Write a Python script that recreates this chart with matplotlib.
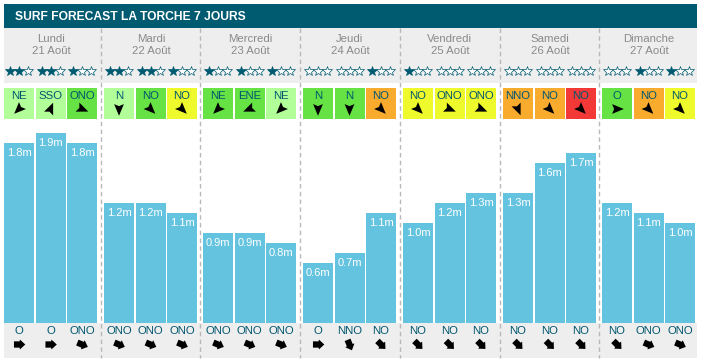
import matplotlib
matplotlib.use("Agg")
import matplotlib.pyplot as plt
from matplotlib.patches import Rectangle, Polygon
import numpy as np

plt.rcParams['font.family'] = ['Liberation Sans', 'DejaVu Sans']

title = "SURF FORECAST LA TORCHE 7 JOURS"
days = ["Lundi", "Mardi", "Mercredi", "Jeudi", "Vendredi", "Samedi", "Dimanche"]
dates = ["21 Août", "22 Août", "23 Août", "24 Août", "25 Août", "26 Août", "27 Août"]

heights = [1.8, 1.9, 1.8, 1.2, 1.2, 1.1, 0.9, 0.9, 0.8, 0.6, 0.7, 1.1,
           1.0, 1.2, 1.3, 1.3, 1.6, 1.7, 1.2, 1.1, 1.0]
stars = [2, 2, 1, 2, 2, 1, 1, 1, 1, 0, 0, 1, 1, 0, 0, 0, 0, 0, 0, 1, 1]
wind_dirs = ["NE", "SSO", "ONO", "N", "NO", "NO", "NE", "ENE", "NE", "N", "N", "NO",
             "NO", "ONO", "ONO", "NNO", "NO", "NO", "O", "NO", "NO"]
# l=light green g=green y=yellow o=orange r=red
wind_levels = ["l", "l", "g", "l", "g", "y", "g", "g", "l", "g", "g", "o",
               "y", "y", "y", "o", "o", "r", "g", "o", "y"]
swell_dirs = ["O", "O", "ONO", "ONO", "ONO", "ONO", "ONO", "ONO", "ONO", "O", "NNO", "NO",
              "NO", "NO", "NO", "NO", "NO", "NO", "NO", "ONO", "ONO"]

level_colors = {"l": "#b2ff99", "g": "#66e244", "y": "#eefa2c", "o": "#f9ab2d", "r": "#f33838"}
# bearing the wind or swell comes from
bearings = {"N": 0, "NNO": 337.5, "NO": 315, "ONO": 292.5, "O": 270, "SSO": 202.5,
            "ENE": 67.5, "NE": 45}

teal = "#005a70"
bar_color = "#64c3df"
grey_bg = "#eeeeee"
text_blue = "#00566e"

day_lefts = [4, 104, 203, 303, 403, 503, 602]
slot_offsets = [0, 31.5, 63]
bar_width = 30
separators = [100.5, 199.5, 300, 399.5, 499.5, 598.5]

W, H = 705, 364
fig = plt.figure(figsize=(W / 100, H / 100), dpi=100, facecolor="white")

# pixel space for everything around the bars
bg = fig.add_axes([0, 0, 1, 1])
bg.set_xlim(0, W)
bg.set_ylim(H, 0)
bg.axis("off")

# bars share the same pixels: bottom at y=323, 100 px per metre
ax = fig.add_axes([0, (H - 323) / H, 1, 323 / H], zorder=2)
ax.set_xlim(0, W)
ax.set_ylim(0, 3.23)
ax.axis("off")
ax.patch.set_alpha(0)

bg.add_patch(Rectangle((4, 4), 693, 24, color=teal, lw=0))
bg.add_patch(Rectangle((4, 28), 693, 55, color=grey_bg, lw=0))
bg.add_patch(Rectangle((4, 323), 693, 35, color=grey_bg, lw=0))
bg.text(15, 16.5, title, color="white", fontsize=8.7, fontweight="bold", va="center", ha="left")

for sx in separators:
    bg.plot([sx, sx], [28, 358], color="#b8b8b8", lw=1, ls=(0, (3.2, 2.4)), zorder=1)

dart = np.array([[0, 1], [0.72, -0.72], [0, -0.42], [-0.72, -0.72]])
block = np.array([[0, 1], [0.78, 0.15], [0.5, 0.1], [0.5, -0.8], [-0.5, -0.8], [-0.5, 0.1], [-0.78, 0.15]])


def arrow(shape, cx, cy, bearing, size):
    # points the way the water/wind travels, so bearing + 180, y axis is flipped
    a = np.radians(bearing + 180)
    ux, uy = np.sin(a), -np.cos(a)
    vx, vy = -uy, ux
    pts = [(cx + size * (p[1] * ux + p[0] * vx), cy + size * (p[1] * uy + p[0] * vy)) for p in shape]
    bg.add_patch(Polygon(pts, closed=True, color="black", lw=0, zorder=4))


for d, (day, date) in enumerate(zip(days, dates)):
    mid = day_lefts[d] + 47
    bg.text(mid, 39.5, day, color="#8a8a8a", fontsize=8.2, ha="center", va="center")
    bg.text(mid, 51, date, color="#8a8a8a", fontsize=8.2, ha="center", va="center")
    for s, off in enumerate(slot_offsets):
        i = d * 3 + s
        x0 = day_lefts[d] + off
        xc = x0 + bar_width / 2
        ax.bar(xc, heights[i], width=bar_width, color=bar_color, linewidth=0)
        ax.text(xc, heights[i] - 0.095, f"{heights[i]:.1f}m", color="white", fontsize=8,
                ha="center", va="center")
        for k in range(3):
            full = k < stars[i]
            bg.plot(xc + (k - 1) * 9, 70.5, marker="*", ms=7.2, mew=0.5,
                    mec=teal, mfc=teal if full else "white", zorder=3)
        bg.add_patch(Rectangle((x0, 88), bar_width, 31, color=level_colors[wind_levels[i]], lw=0))
        bg.text(xc, 96, wind_dirs[i], color=text_blue, fontsize=8.2, ha="center", va="center", zorder=4)
        arrow(dart, xc, 109, bearings[wind_dirs[i]], 6.8)
        bg.text(xc, 331, swell_dirs[i], color=text_blue, fontsize=8.2, ha="center", va="center")
        arrow(block, xc, 344.5, bearings[swell_dirs[i]], 6.3)

fig.savefig("out.png", dpi=100, facecolor="white")
